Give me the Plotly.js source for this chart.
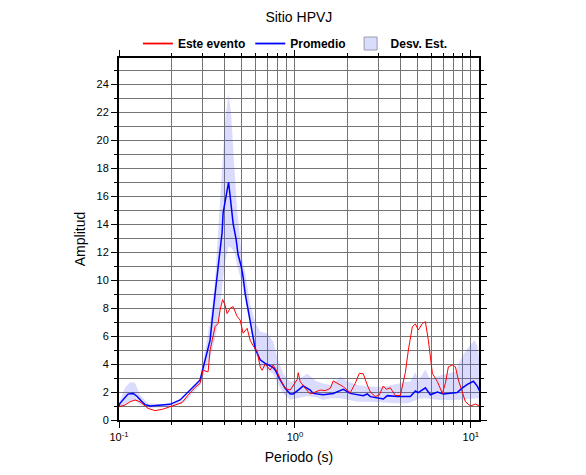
<!DOCTYPE html>
<html><head><meta charset="utf-8">
<script src="https://cdn.plot.ly/plotly-3.0.1.min.js"></script>
<style>html,body{margin:0;padding:0;background:#fff}#chart{width:586px;height:475px}</style>
</head><body><div id="chart"></div>
<script>
// Este evento (red)
const periodoEvento = [0.100,0.1082,0.1155,0.1233,0.1317,0.1406,0.1462,0.1603,0.1758,0.1901,0.2084,0.2284,0.2471,0.2708,0.2891,0.3007,0.3168,0.3210,0.3295,0.3518,0.3659,0.3756,0.3880,0.4010,0.4116,0.4282,0.4453,0.4693,0.4881,0.5078,0.5352,0.5566,0.5789,0.6101,0.6345,0.6514,0.6775,0.7234,0.7523,0.7928,0.8246,0.8804,0.9402,0.9780,1.031,1.044,1.072,1.145,1.222,1.305,1.393,1.487,1.588,1.652,1.763,1.883,2.064,2.203,2.322,2.447,2.578,2.683,2.864,3.019,3.181,3.308,3.486,3.723,3.975,4.245,4.415,4.653,4.839,5.033,5.304,5.516,5.737,6.046,6.455,6.892,7.168,7.455,7.856,8.171,8.498,8.955,9.314,9.948,10.622,11.193];
const ampEvento = [0.95,1.07,1.30,1.43,1.30,1.00,0.83,0.67,0.76,0.90,1.07,1.24,1.79,2.33,2.62,3.57,3.45,3.45,5.00,6.67,6.90,7.86,8.60,8.20,7.60,7.98,8.10,7.40,7.14,6.20,6.55,5.70,5.30,4.90,3.80,3.55,4.00,3.57,3.93,3.45,2.90,2.26,2.14,2.50,2.90,3.38,2.74,2.26,1.86,2.00,2.14,2.10,2.26,2.79,2.57,2.38,1.95,2.62,3.33,3.30,2.50,2.00,1.67,1.79,2.43,2.19,2.30,1.75,1.75,3.40,5.00,6.67,6.86,6.43,6.90,7.02,5.70,3.33,2.74,1.90,2.62,3.80,3.93,3.80,2.86,1.90,1.31,1.00,1.14,1.00];

// Promedio (blue)
const periodoProm = [0.100,0.1013,0.1082,0.1125,0.1201,0.1266,0.1352,0.1406,0.1501,0.1712,0.1951,0.2225,0.2536,0.2708,0.2891,0.3087,0.3295,0.3382,0.3518,0.3659,0.3856,0.3907,0.4198,0.4338,0.4453,0.4632,0.4754,0.4947,0.5078,0.5213,0.5422,0.5640,0.5943,0.6345,0.6775,0.7426,0.7723,0.8246,0.8804,0.9402,0.9780,1.044,1.115,1.222,1.271,1.449,1.652,1.883,2.064,2.447,2.578,2.683,3.181,3.352,3.486,3.822,4.532,4.839,5.033,5.516,5.890,6.455,6.982,8.388,8.955,9.561,10.347,10.903,11.193];
const ampProm = [1.00,1.19,1.60,1.85,1.90,1.70,1.30,1.10,1.00,1.05,1.12,1.43,2.19,2.50,2.86,4.40,5.70,7.10,8.80,10.90,13.40,14.80,17.00,15.20,14.05,12.90,11.80,11.00,10.20,9.05,7.90,6.80,5.10,4.30,4.05,3.80,3.57,2.86,2.26,1.86,1.86,2.14,2.43,2.14,1.90,1.81,1.90,2.19,1.90,1.74,1.86,1.67,1.50,1.74,1.71,1.67,1.67,2.07,1.95,2.30,1.80,2.00,1.85,1.97,2.30,2.55,2.77,2.40,2.10];

// Desv. Est. band
const periodoBanda = [0.100,0.1082,0.1155,0.1233,0.1317,0.1462,0.1712,0.2084,0.2375,0.2708,0.2891,0.3087,0.3295,0.3518,0.3659,0.3756,0.3856,0.3907,0.4010,0.4198,0.4338,0.4453,0.4571,0.4693,0.4881,0.5012,0.5213,0.5422,0.5566,0.5943,0.6345,0.6954,0.7523,0.7928,0.8577,0.9402,1.031,1.175,1.339,1.449,1.588,1.810,2.010,2.262,2.683,3.181,3.486,3.822,4.358,4.532,4.839,5.033,5.516,5.890,6.455,7.358,8.171,8.724,9.561,10.483,10.903,11.193];
const bandaSup = [1.20,2.30,2.70,2.65,1.80,1.20,1.15,1.20,1.50,2.40,3.00,4.90,7.00,10.00,13.50,15.70,17.60,19.50,21.40,23.30,21.90,19.50,17.10,15.00,13.00,11.50,10.50,9.00,8.30,7.00,6.30,6.20,5.60,4.50,3.30,2.74,2.86,3.30,2.74,2.60,2.50,3.10,2.74,2.50,2.38,2.38,2.50,2.62,2.74,2.74,3.45,2.80,3.60,2.86,3.10,3.33,3.45,4.30,5.10,5.70,5.30,4.20];
const bandaInf = [0.90,1.10,1.35,1.40,1.10,0.85,0.90,1.00,1.30,2.10,2.50,3.50,4.50,5.80,7.00,8.20,9.50,10.30,11.30,12.40,12.30,12.10,11.80,11.00,10.20,9.76,8.57,7.40,6.50,4.80,3.90,3.60,3.30,2.70,1.90,1.45,1.55,1.70,1.60,1.43,1.55,1.55,1.45,1.31,1.30,1.25,1.19,1.19,1.20,1.25,1.40,1.50,1.55,1.50,1.45,1.43,1.43,1.45,1.50,1.55,1.55,1.55];

const xMajor = [0.1, 1, 10];
const xMajorText = ['10<sup>-1</sup>', '10<sup>0</sup>', '10<sup>1</sup>'];
const xMinor = [0.2,0.3,0.4,0.5,0.6,0.7,0.8,0.9,2,3,4,5,6,7,8,9];

const font = 'Liberation Sans, Arial, Helvetica, sans-serif';
const gridColor = '#747474';

const traces = [
  {x: periodoBanda, y: bandaInf, type: 'scatter', mode: 'lines', line: {width: 0, color: 'rgba(0,0,0,0)'}, showlegend: false, hoverinfo: 'skip'},
  {x: periodoBanda, y: bandaSup, type: 'scatter', mode: 'lines', fill: 'tonexty', fillcolor: 'rgba(90,95,245,0.22)', line: {width: 0, color: 'rgba(0,0,0,0)'}, name: 'Desv. Est.', showlegend: false, legendgroup: 'band'},
  {x: periodoProm, y: ampProm, type: 'scatter', mode: 'lines', line: {color: '#0000ff', width: 1.5}, name: 'Promedio', showlegend: false, legendgroup: 'prom'},
  {x: periodoEvento, y: ampEvento, type: 'scatter', mode: 'lines', line: {color: '#ff0000', width: 1}, name: 'Este evento', showlegend: false, legendgroup: 'ev'},
  // legend entries
  {x: [null], y: [null], type: 'scatter', mode: 'lines', line: {color: '#ff0000', width: 1.8}, name: 'Este evento', legendrank: 1, legendgroup: 'ev'},
  {x: [null], y: [null], type: 'scatter', mode: 'lines', line: {color: '#0000ff', width: 1.8}, name: 'Promedio', legendrank: 2, legendgroup: 'prom'},
  {x: [null], y: [null], type: 'scatter', mode: 'markers', marker: {symbol: 'square', size: 13, color: 'rgb(218,220,252)', line: {color: '#9a9aae', width: 1}}, name: 'Desv. Est.', legendrank: 3, legendgroup: 'band'}
];

const layout = {
  width: 586, height: 475,
  margin: {l: 119, r: 107, t: 58, b: 55},
  paper_bgcolor: '#fff', plot_bgcolor: '#fff',
  font: {family: font, color: '#000', size: 11},
  title: {text: 'Sitio HPVJ', font: {family: font, size: 14, color: '#000'}, x: 0.51, xanchor: 'center', y: 0.963, yanchor: 'middle'},
  showlegend: true,
  legend: {orientation: 'h', x: 0.49, xanchor: 'center', y: 1.04, yanchor: 'middle', font: {family: font, size: 12, color: '#000', weight: 'bold'}, bgcolor: 'rgba(0,0,0,0)', traceorder: 'normal', itemwidth: 30},
  xaxis: {
    type: 'log', range: [-1, 1.0465], autorange: false,
    tickmode: 'array', tickvals: xMajor, ticktext: xMajorText,
    ticks: 'outside', ticklen: 6, tickwidth: 1, tickcolor: '#000',
    showgrid: true, gridcolor: gridColor, gridwidth: 1,
    minor: {tickmode: 'array', tickvals: xMinor, ticks: 'outside', ticklen: 3, tickcolor: '#000', showgrid: true, gridcolor: gridColor, gridwidth: 1},
    showline: true, linecolor: '#000', linewidth: 2, mirror: 'allticks',
    zeroline: false,
    tickfont: {family: font, size: 11, color: '#000'},
    title: {text: 'Periodo (s)', font: {family: font, size: 14, color: '#000'}, standoff: 10}
  },
  yaxis: {
    range: [0, 25.86], autorange: false,
    tickmode: 'linear', tick0: 0, dtick: 2,
    ticks: 'outside', ticklen: 6, tickwidth: 1, tickcolor: '#000',
    showgrid: true, gridcolor: gridColor, gridwidth: 1,
    minor: {dtick: 1, ticks: 'outside', ticklen: 3, tickcolor: '#000', showgrid: true, gridcolor: gridColor, gridwidth: 1},
    showline: true, linecolor: '#000', linewidth: 2, mirror: 'allticks',
    zeroline: false,
    tickfont: {family: font, size: 11, color: '#000'},
    title: {text: 'Amplitud', font: {family: font, size: 14, color: '#000'}, standoff: 8}
  }
};

Plotly.newPlot('chart', traces, layout, {staticPlot: true, displayModeBar: false});
</script>
</body></html>
